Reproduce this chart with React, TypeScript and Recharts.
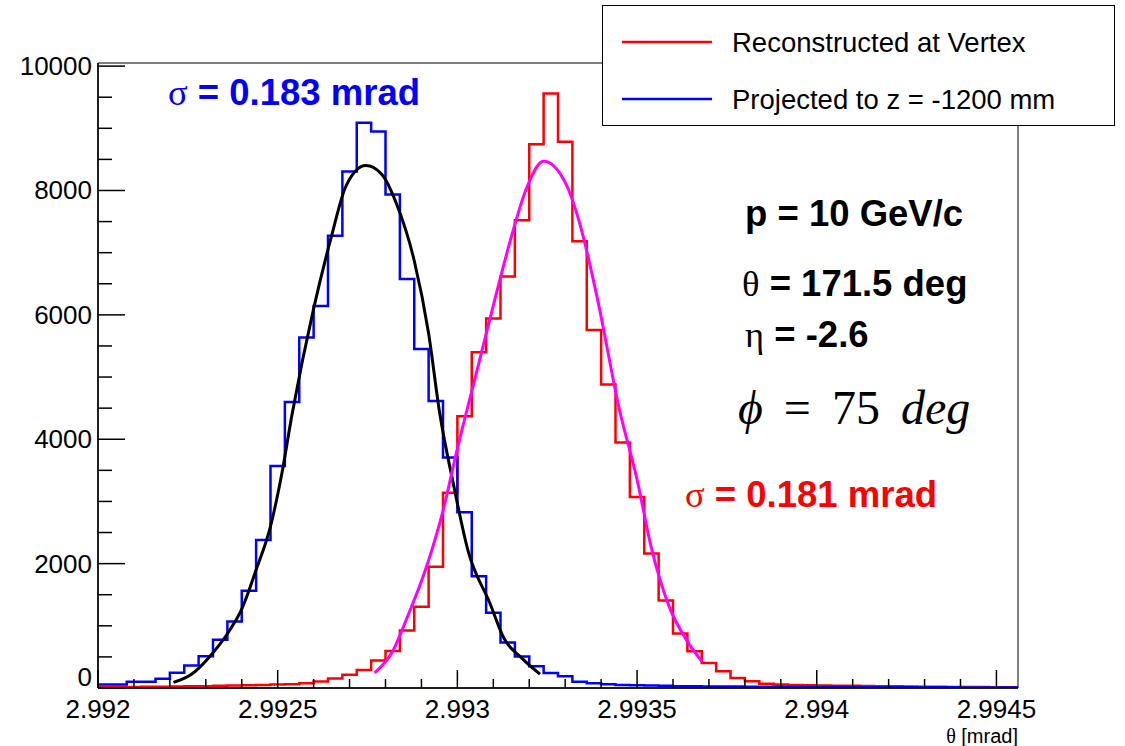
import React from 'react';
import { ComposedChart, Line, XAxis, YAxis, ReferenceArea } from 'recharts';

// histogram binning: 64 bins of 0.00004 starting at 2.992
const X_LO = 2.992;
const X_HI = 2.99456;
const BIN_W = 0.00004;
const Y_MAX = 10050;

const xTicks = [
  2.992, 2.9921, 2.9922, 2.9923, 2.9924, 2.9925, 2.9926, 2.9927, 2.9928, 2.9929,
  2.993, 2.9931, 2.9932, 2.9933, 2.9934, 2.9935, 2.9936, 2.9937, 2.9938, 2.9939,
  2.994, 2.9941, 2.9942, 2.9943, 2.9944, 2.9945,
];
const xLabels = ['2.992', '2.9925', '2.993', '2.9935', '2.994', '2.9945'];

const yTicks = [
  0, 500, 1000, 1500, 2000, 2500, 3000, 3500, 4000, 4500, 5000,
  5500, 6000, 6500, 7000, 7500, 8000, 8500, 9000, 9500, 10000,
];
const yLabels = ['0', '2000', '4000', '6000', '8000', '10000'];

// projected to z = -1200 mm (blue)
const blueCounts = [
  55, 55, 100, 100, 150, 245, 360, 509, 776, 1068,
  1565, 2379, 3571, 4600, 5638, 6143, 7271, 8306, 9089, 8947,
  7937, 6575, 5451, 4614, 3705, 2828, 1795, 1210, 732, 508,
  349, 241, 190, 100, 75, 60, 50, 45, 40, 35,
  30, 28, 26, 25, 24, 22, 20, 20, 18, 18,
  16, 15, 15, 14, 14, 13, 12, 12, 12, 11,
  10, 10, 10, 10,
];

// reconstructed at vertex (red)
const redCounts = [
  15, 15, 18, 20, 22, 25, 28, 30, 35, 40,
  45, 50, 55, 62, 75, 103, 153, 214, 288, 442,
  596, 923, 1308, 1948, 3138, 4370, 5400, 5940, 6616, 7521,
  8745, 9561, 8783, 7183, 5755, 4880, 3948, 3070, 2163, 1406,
  875, 590, 403, 268, 161, 107, 70, 55, 50, 45,
  40, 38, 35, 32, 30, 28, 25, 22, 20, 18,
  16, 15, 14, 12,
];

// gaussian fit curves
const blackFitX = [
  2.99221, 2.99226, 2.99231, 2.99237, 2.9924, 2.99244, 2.99248, 2.99251, 2.99254,
  2.9926, 2.99265, 2.99269, 2.992745, 2.99279, 2.99283, 2.99288, 2.99292, 2.99295,
  2.99299, 2.99303, 2.99309, 2.99313, 2.99318, 2.99323,
];
const blackFitY = [
  90, 220, 500, 960, 1270, 1900, 2600, 3400, 4400,
  6100, 7270, 8070, 8400, 8257, 7795, 6870, 5700, 4450,
  3250, 2200, 1370, 795, 477, 222,
];

const magentaFitX = [
  2.99277, 2.99282, 2.99286, 2.99291, 2.99296, 2.993, 2.99305, 2.9931, 2.99315,
  2.99319, 2.99324, 2.9933, 2.99334, 2.99339, 2.99345, 2.9935, 2.99354, 2.99359,
  2.99364, 2.99368,
];
const magentaFitY = [
  245, 590, 1130, 1880, 2850, 3850, 5000, 6150, 7250,
  8000, 8470, 8130, 7480, 6250, 4500, 3350, 2250, 1300,
  750, 430,
];

const SANS = '"Liberation Sans", Arial, Helvetica, sans-serif';
const SERIF = '"Liberation Serif", "Times New Roman", serif';

const PLOT_LEFT = 98;
const PLOT_BOTTOM = 688;

function toSteps(counts: number[]) {
  const pts = counts.map((c, i) => ({ x: X_LO + i * BIN_W, y: c }));
  pts.push({ x: X_LO + counts.length * BIN_W, y: counts[counts.length - 1] });
  return pts;
}

function toPoints(xs: number[], ys: number[]) {
  return xs.map((x, i) => ({ x, y: ys[i] }));
}

function XTick(props: any) {
  const { payload } = props;
  const cx = payload.coordinate;
  const label = xLabels.find((l) => Math.abs(parseFloat(l) - payload.value) < 1e-9);
  return (
    <g>
      <line x1={cx} x2={cx} y1={PLOT_BOTTOM} y2={PLOT_BOTTOM - (label ? 18 : 9)} stroke="#000" strokeWidth={1.5} />
      {label && (
        <text x={cx} y={718} textAnchor="middle" fontSize={26} fontFamily={SANS} fill="#000">
          {label}
        </text>
      )}
    </g>
  );
}

function YTick(props: any) {
  const { payload } = props;
  const cy = payload.coordinate;
  const label = yLabels.find((l) => Number(l) === payload.value);
  // ROOT lifts the zero label a little so it clears the x labels
  const dy = payload.value === 0 ? -2 : 9;
  return (
    <g>
      <line x1={PLOT_LEFT} x2={PLOT_LEFT + (label ? 27 : 14)} y1={cy} y2={cy} stroke="#000" strokeWidth={1.5} />
      {label && (
        <text x={92} y={cy + dy} textAnchor="end" fontSize={26} fontFamily={SANS} fill="#000">
          {label}
        </text>
      )}
    </g>
  );
}

export default function App() {
  const red = toSteps(redCounts);
  const blue = toSteps(blueCounts);
  const blackFit = toPoints(blackFitX, blackFitY);
  const magentaFit = toPoints(magentaFitX, magentaFitY);

  return (
    <div style={{ position: 'absolute', left: 0, top: 0, width: 1125, height: 746, background: '#fff' }}>
      <ComposedChart width={1125} height={746} margin={{ top: 63, right: 107, bottom: 0, left: 0 }}>
        <XAxis
          type="number"
          dataKey="x"
          domain={[X_LO, X_HI]}
          ticks={xTicks}
          interval={0}
          allowDataOverflow
          height={58}
          axisLine={{ stroke: '#000', strokeWidth: 1.5 }}
          tickLine={false}
          tick={(p: any) => <XTick {...p} />}
        />
        <YAxis
          type="number"
          domain={[0, Y_MAX]}
          ticks={yTicks}
          interval={0}
          allowDataOverflow
          width={98}
          axisLine={{ stroke: '#000', strokeWidth: 1.5 }}
          tickLine={false}
          tick={(p: any) => <YTick {...p} />}
        />
        <ReferenceArea x1={X_LO} x2={X_HI} y1={0} y2={Y_MAX} fill="none" stroke="#000" strokeWidth={1} ifOverflow="visible" />
        <Line data={red} dataKey="y" type="stepAfter" stroke="#ff0000" strokeWidth={2.5} dot={false} isAnimationActive={false} />
        <Line data={blue} dataKey="y" type="stepAfter" stroke="#0000ff" strokeWidth={2.5} dot={false} isAnimationActive={false} />
        <Line data={blackFit} dataKey="y" type="monotone" stroke="#000" strokeWidth={3} dot={false} isAnimationActive={false} />
        <Line data={magentaFit} dataKey="y" type="monotone" stroke="#ff00ff" strokeWidth={3} dot={false} isAnimationActive={false} />
      </ComposedChart>

      <svg width={1125} height={746} style={{ position: 'absolute', left: 0, top: 0, pointerEvents: 'none' }}>
        {/* legend */}
        <rect x={602.5} y={5.5} width={512} height={120} fill="#fff" stroke="#000" strokeWidth={1} />
        <line x1={622} x2={712} y1={42} y2={42} stroke="#ff0000" strokeWidth={2.5} />
        <text x={732} y={52} fontSize={27.5} fontFamily={SANS} fill="#000">Reconstructed at Vertex</text>
        <line x1={622} x2={712} y1={99} y2={99} stroke="#0000ff" strokeWidth={2.5} />
        <text x={732} y={109} fontSize={27.5} fontFamily={SANS} fill="#000">Projected to z = -1200 mm</text>

        {/* annotations */}
        <text x={168} y={105} fontSize={36.5} fontFamily={SANS} fill="#0000ff">
          <tspan fontFamily={SERIF}>σ</tspan>
          <tspan fontWeight="bold"> = 0.183 mrad</tspan>
        </text>
        <text x={745} y={226} fontSize={36.5} fontFamily={SANS} fontWeight="bold" fill="#000">p = 10 GeV/c</text>
        <text x={742} y={296} fontSize={36.5} fontFamily={SANS} fill="#000">
          <tspan fontFamily={SERIF}>θ</tspan>
          <tspan fontWeight="bold"> = 171.5 deg</tspan>
        </text>
        <text x={745} y={347} fontSize={36.5} fontFamily={SANS} fill="#000">
          <tspan fontFamily={SERIF}>η</tspan>
          <tspan fontWeight="bold"> = -2.6</tspan>
        </text>
        <text x={738} y={424} fontSize={48} fontFamily={SERIF} fill="#000" wordSpacing={9}>
          <tspan fontStyle="italic">ϕ</tspan>
          <tspan> = 75 </tspan>
          <tspan fontStyle="italic">deg</tspan>
        </text>
        <text x={685} y={507} fontSize={36.5} fontFamily={SANS} fill="#ff0000">
          <tspan fontFamily={SERIF}>σ</tspan>
          <tspan fontWeight="bold"> = 0.181 mrad</tspan>
        </text>

        <text x={1018} y={743} textAnchor="end" fontSize={20} fontFamily={SANS} fill="#000">
          <tspan fontFamily={SERIF}>θ</tspan>
          <tspan> [mrad]</tspan>
        </text>
      </svg>
    </div>
  );
}
